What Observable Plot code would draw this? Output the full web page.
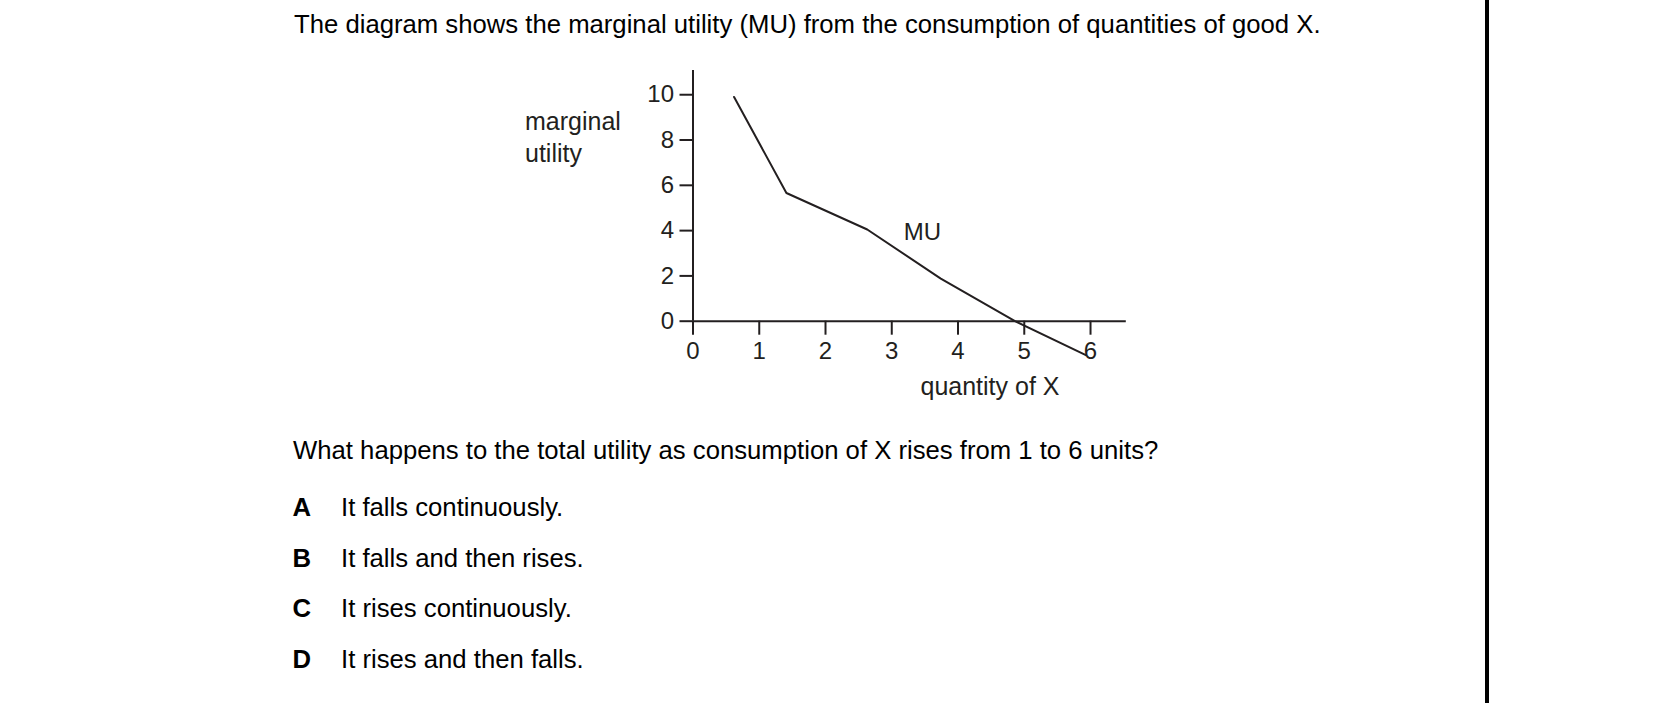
<!DOCTYPE html>
<html>
<head>
<meta charset="utf-8">
<script src="https://cdn.jsdelivr.net/npm/d3@7"></script>
<script src="https://cdn.jsdelivr.net/npm/@observablehq/plot@0.6"></script>
<style>
  html, body { margin: 0; padding: 0; background: #ffffff; }
  body { width: 1656px; height: 703px; position: relative; overflow: hidden;
         font-family: "Liberation Sans", Arial, sans-serif; color: #000; }
  .t { position: absolute; white-space: pre; line-height: 1; }
  #chart { position: absolute; left: 0; top: 0; }
  #bar { position: absolute; left: 1485px; top: 0; width: 4px; height: 703px; background: #000; }
</style>
</head>
<body>
<div id="chart"></div>
<div id="bar"></div>
<script>
// ---- data ----
const quantity = [0.62, 1.41, 2.63, 3.74, 4.86, 5.93];
const marginalUtility = [9.9, 5.66, 4.05, 1.88, 0, -1.5];
const xTicks = [0, 1, 2, 3, 4, 5, 6];
const yTicks = [0, 2, 4, 6, 8, 10];
const xExtent = [0, 6.54];
const yExtent = [0, 11.07];
const curveLabel = ["MU"];
const curveLabelAt = [3.18, 3.6];

const title = "The diagram shows the marginal utility (MU) from the consumption of quantities of good X.";
const question = "What happens to the total utility as consumption of X rises from 1 to 6 units?";
const optionLetters = ["A", "B", "C", "D"];
const optionTexts = ["It falls continuously.", "It falls and then rises.", "It rises continuously.", "It rises and then falls."];
const yAxisLabel = ["marginal", "utility"];
const xAxisLabel = "quantity of X";

// ---- chart ----
const ink = "#231f20";
const curve = quantity.map((q, i) => ({q, u: marginalUtility[i]}));

const chart = Plot.plot({
  width: 1656,
  height: 703,
  marginLeft: 692.5,
  marginRight: 1656 - 1125.8,
  marginTop: 70,
  marginBottom: 703 - 320.7,
  style: {background: "transparent", overflow: "visible", fontFamily: "'Liberation Sans', Arial, sans-serif", color: ink},
  x: {domain: xExtent},
  y: {domain: yExtent},
  marks: [
    Plot.ruleX([xExtent[0]], {y1: yExtent[0], y2: yExtent[1], stroke: ink, strokeWidth: 2}),
    Plot.ruleY([0], {x1: xExtent[0], x2: xExtent[1], stroke: ink, strokeWidth: 2}),
    Plot.axisY({ticks: yTicks, tickSize: 13, tickPadding: 6, fontSize: 24, label: null, stroke: ink, strokeWidth: 2, fill: ink, tickFormat: d => String(d)}),
    Plot.axisX({ticks: xTicks, tickSize: 14, tickPadding: 7, fontSize: 24, label: null, stroke: ink, strokeWidth: 2, fill: ink, tickFormat: d => String(d)}),
    Plot.line(curve, {x: "q", y: "u", stroke: ink, strokeWidth: 2}),
    Plot.text(curveLabel, {x: () => curveLabelAt[0], y: () => curveLabelAt[1], text: d => d, textAnchor: "start", lineAnchor: "bottom", fontSize: 24, fill: ink})
  ]
});
document.getElementById("chart").appendChild(chart);

// ---- html text ----
function place(text, left, baseline, size, opts = {}) {
  const d = document.createElement("div");
  d.className = "t";
  d.textContent = text;
  d.style.left = left + "px";
  d.style.top = (baseline - 0.8465 * size) + "px";
  d.style.fontSize = size + "px";
  if (opts.bold) d.style.fontWeight = "bold";
  if (opts.color) d.style.color = opts.color;
  document.body.appendChild(d);
}
place(title, 294, 33.3, 25.7);
place(question, 293, 459.5, 25.7);
const optBase = [517, 567.6, 618.1, 668.7];
optionLetters.forEach((l, i) => {
  place(l, 292.5, optBase[i], 25.7, {bold: true});
  place(optionTexts[i], 341, optBase[i], 25.7);
});
place(yAxisLabel[0], 525, 130, 25, {color: ink});
place(yAxisLabel[1], 525, 161.7, 25, {color: ink});
place(xAxisLabel, 920.5, 395, 25, {color: ink});
</script>
</body>
</html>
